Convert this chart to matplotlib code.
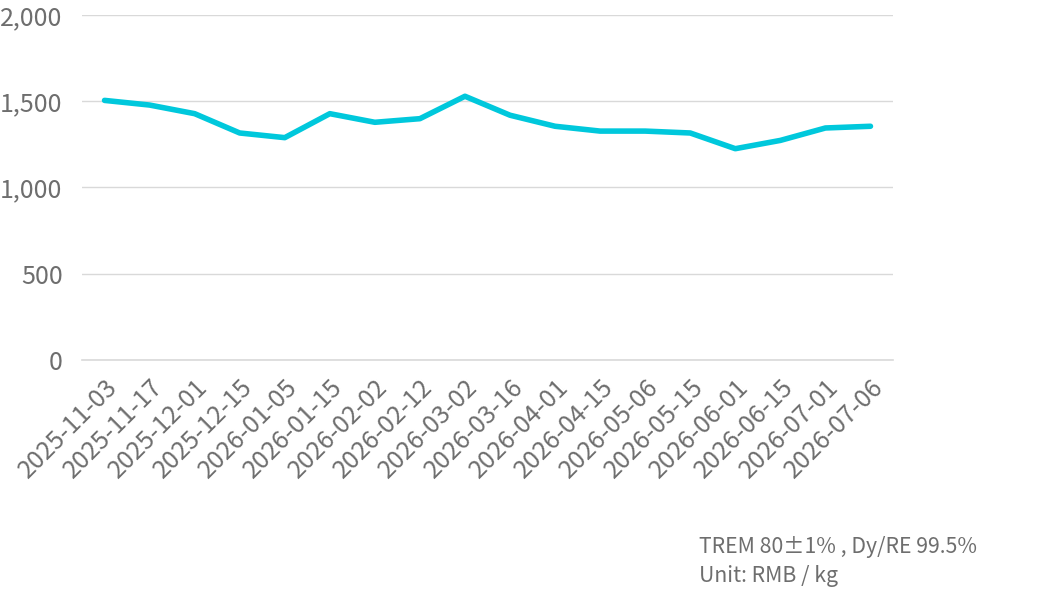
import matplotlib
matplotlib.use('Agg')
from matplotlib import pyplot as plt

plt.rcParams['font.family'] = ['Noto Sans CJK SC', 'DejaVu Sans']

dates = ['2025-11-03', '2025-11-17', '2025-12-01', '2025-12-15', '2026-01-05',
         '2026-01-15', '2026-02-02', '2026-02-12', '2026-03-02', '2026-03-16',
         '2026-04-01', '2026-04-15', '2026-05-06', '2026-05-15', '2026-06-01',
         '2026-06-15', '2026-07-01', '2026-07-06']
prices = [1505, 1478, 1428, 1316, 1289, 1428, 1378, 1399, 1529, 1419,
          1355, 1327, 1327, 1316, 1225, 1273, 1345, 1355]
yticks = [0, 500, 1000, 1500, 2000]
note_lines = ['TREM 80\u00b11% , Dy/RE 99.5%', 'Unit: RMB / kg']

text_col = '#6e6e6e'
grid_col = '#d9d9d9'

fig = plt.figure(figsize=(10.37, 6.09), dpi=100)
ax = fig.add_axes([82 / 1037, 1 - 360 / 609, (893 - 82) / 1037, (360 - 15) / 609])

x = list(range(len(dates)))
ax.plot(x, prices, color='#00c8dc', linewidth=4, solid_capstyle='round', solid_joinstyle='round', zorder=3)

ax.set_ylim(0, 2000)
ax.set_xlim(-0.5, len(dates) - 0.5)
ax.set_yticks(yticks)
ax.set_yticklabels(['{:,}'.format(v) for v in yticks])
ax.set_xticks(x)
ax.set_xticklabels(dates, rotation=45, ha='right', rotation_mode='anchor')

ax.grid(axis='y', color=grid_col, linewidth=1)
ax.set_axisbelow(True)
for s in ['top', 'right', 'left']:
  ax.spines[s].set_visible(False)
ax.spines['bottom'].set_color(grid_col)
ax.spines['bottom'].set_linewidth(1.2)

ax.tick_params(axis='both', length=0, labelsize=18, labelcolor=text_col)
ax.tick_params(axis='y', pad=14)
ax.tick_params(axis='x', pad=10)

fig.text(699 / 1037, 1 - 547 / 609, note_lines[0], fontsize=15.3, color=text_col, va='center')
fig.text(699 / 1037, 1 - 576 / 609, note_lines[1], fontsize=15.3, color=text_col, va='center')

fig.savefig('out.png', dpi=100)
